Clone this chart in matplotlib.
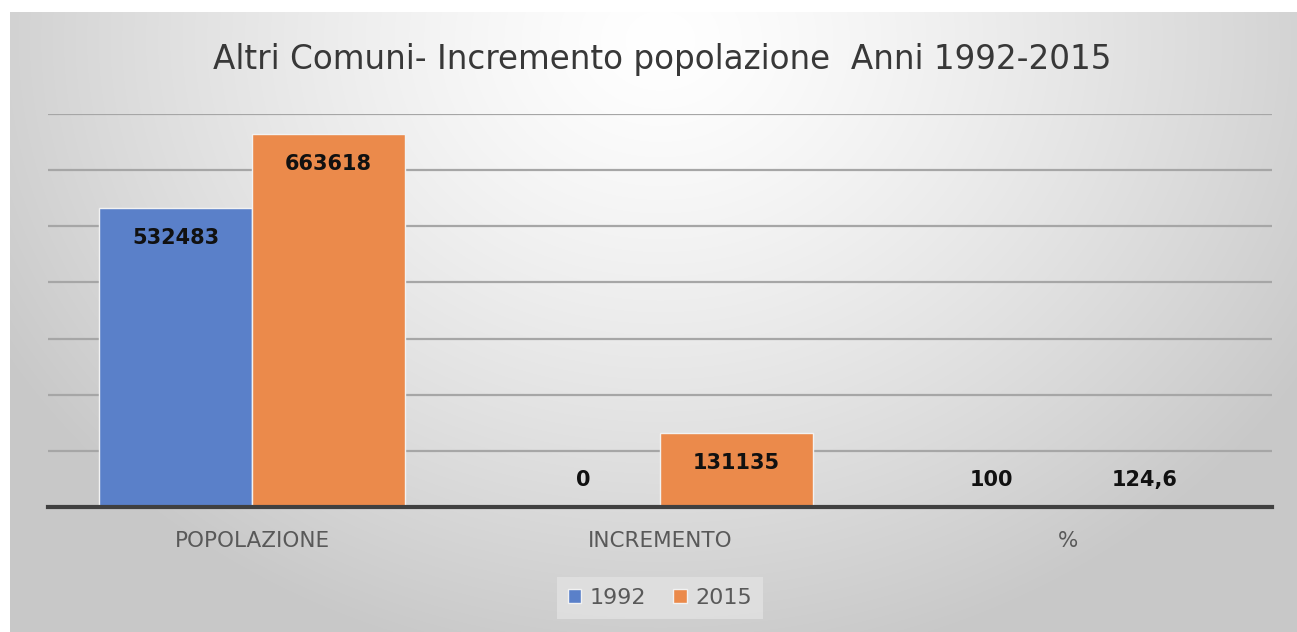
import matplotlib.pyplot as plt
import numpy as np

# data
categories = ['POPOLAZIONE', 'INCREMENTO', '%']
years = ['1992', '2015']
val_1992 = [532483, 0, 100]
val_2015 = [663618, 131135, 124.6]

W, H = 1297, 632
fig = plt.figure(figsize=(W / 100, H / 100), dpi=100, facecolor='white')

# soft radial gray background, like the Excel chart area
bg = fig.add_axes([10 / W, 0, 1 - 10 / W, 620 / H])
yy, xx = np.mgrid[12:H, 10:W]
t = np.sqrt(((xx - 660) / 760.0) ** 2 + ((yy - 40) / 640.0) ** 2)
t = np.clip(t, 0, 1) ** 1.3
g = 1.0 - (1.0 - 0.785) * t
bg.imshow(np.dstack([g, g, g]), aspect='auto', interpolation='bilinear')
bg.axis('off')

ax = fig.add_axes([48 / W, (H - 507) / H, (1272 - 48) / W, (507 - 114) / H])
ax.set_facecolor('none')

x = np.arange(len(categories))
w = 0.375
colors = ['#5a80c9', '#eb8a4b']
for off, vals, col, lab in [(-w / 2, val_1992, colors[0], years[0]),
                            (w / 2, val_2015, colors[1], years[1])]:
    ax.bar(x + off, vals, width=w, color=col, edgecolor='#f2f2f2', linewidth=1.0,
           label=lab, zorder=3)
    for xi, v in zip(x + off, vals):
        txt = str(v).replace('.', ',')
        if v > 60000:
            ax.annotate(txt, (xi, v), xytext=(0, -30), textcoords='offset pixels',
                        ha='center', va='center', fontsize=15, fontweight='bold',
                        color='#111111', zorder=4)
        else:
            ax.annotate(txt, (xi, 0), xytext=(0, 27), textcoords='offset pixels',
                        ha='center', va='center', fontsize=15, fontweight='bold',
                        color='#111111', zorder=4)

ax.set_xlim(-0.5, 2.5)
ax.set_ylim(0, 700000)
ax.set_yticks(np.arange(100000, 700001, 100000))
ax.set_yticklabels([])
ax.tick_params(axis='y', length=0)
ax.grid(axis='y', color='#a6a6a6', linewidth=1.6, zorder=1)
ax.set_axisbelow(True)
for s in ['top', 'right', 'left']:
    ax.spines[s].set_visible(False)
ax.spines['bottom'].set_color('#404040')
ax.spines['bottom'].set_linewidth(3)
ax.spines['bottom'].set_zorder(5)
ax.set_xticks(x)
ax.set_xticklabels(categories, fontsize=15.5, color='#595959')
ax.tick_params(axis='x', length=0, pad=17)

fig.text(662 / W, 1 - 60 / H, 'Altri Comuni- Incremento popolazione  Anni 1992-2015',
         ha='center', va='center', fontsize=23.5, color='#383838',
         fontweight='medium')

leg = fig.legend(loc='center', bbox_to_anchor=(660 / W, 1 - 598 / H), ncol=2,
                 fontsize=16, labelcolor='#595959', frameon=True,
                 handlelength=0.6, handleheight=0.6, handletextpad=0.4,
                 columnspacing=1.2, borderpad=0.5, fancybox=False)
leg.get_frame().set_facecolor('#e2e2e2')
leg.get_frame().set_edgecolor('none')

fig.savefig('out.png', dpi=100)
